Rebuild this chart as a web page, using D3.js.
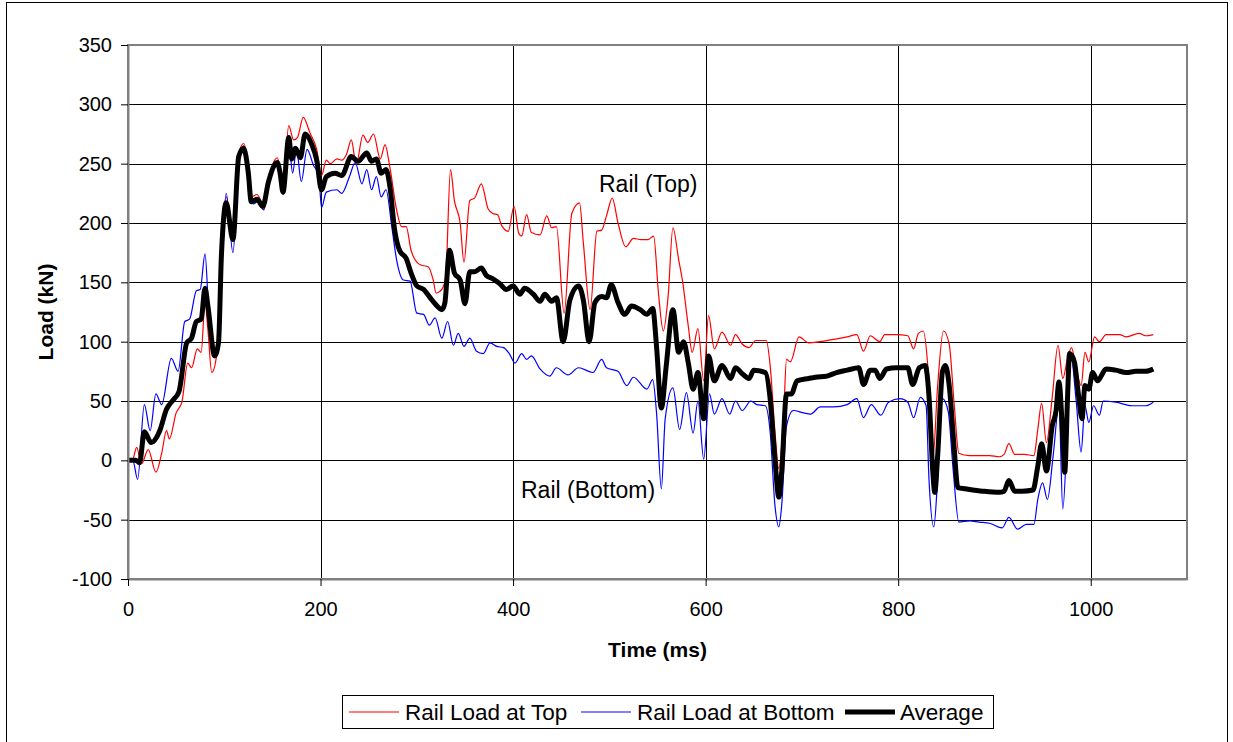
<!DOCTYPE html>
<html>
<head>
<meta charset="utf-8">
<script src="https://cdn.jsdelivr.net/npm/d3@7"></script>
<style>
  body { margin: 0; background: #fff; }
  svg { display: block; font-family: "Liberation Sans", Arial, sans-serif; }
</style>
</head>
<body>
<div id="chart"></div>
<script>
// DATA  [time (ms), load (kN)]
const railTop = [[0,0],[5,1],[9,11],[14,-3],[21,9],[29,-10],[35,6],[40,25],[43,18],[50,40],[56,49],[62,82],[66,78],[72,94],[76,91],[80,133],[83,110],[87,74],[92,88],[97,175],[102,222],[109,190],[115,258],[120,267],[125,248],[128,222],[134,224],[140,217],[146,238],[155,255],[158,246],[161,230],[167,282],[172,270],[176,272],[182,289],[189,276],[196,262],[201,240],[206,253],[210,250],[217,254],[222,253],[227,258],[232,270],[237,249],[244,274],[249,268],[255,275],[262,254],[267,266],[272,247],[279,211],[284,197],[289,197],[294,177],[303,165],[312,163],[317,152],[320,141],[326,144],[330,155],[335,245],[339,219],[345,200],[349,167],[355,219],[360,221],[367,233],[374,212],[379,208],[384,207],[388,198],[395,193],[401,214],[406,191],[409,189],[414,207],[419,192],[428,190],[435,206],[440,196],[445,197],[453,124],[461,208],[469,217],[473,183],[480,127],[487,193],[492,194],[497,206],[503,221],[509,200],[517,180],[525,187],[533,186],[540,186],[546,189],[551,141],[556,109],[561,138],[566,196],[572,169],[576,151],[582,113],[586,91],[592,111],[598,67],[603,122],[609,94],[617,108],[626,97],[631,106],[638,98],[645,95],[652,101],[663,101],[667,80],[672,24],[676,-7],[681,38],[684,85],[688,83],[697,104],[707,99],[719,100],[733,102],[747,104],[757,106],[764,92],[771,105],[781,100],[786,106],[798,106],[810,105],[816,94],[821,107],[826,109],[831,77],[836,1],[841,63],[847,109],[853,98],[858,49],[863,6],[874,4],[895,4],[905,3],[910,5],[915,14],[921,5],[931,5],[941,4],[945,26],[949,48],[954,15],[960,53],[966,97],[971,69],[976,86],[980,95],[985,77],[990,63],[994,91],[998,83],[1004,104],[1009,100],[1016,106],[1030,106],[1037,104],[1050,107],[1057,105],[1065,106]];

const railBottom = [[0,0],[5,0],[10,-16],[17,47],[23,25],[29,56],[35,47],[45,86],[52,75],[59,117],[64,119],[71,143],[75,144],[80,174],[84,122],[88,88],[94,100],[97,160],[102,225],[109,175],[115,250],[120,265],[130,216],[135,218],[141,211],[146,232],[155,248],[158,240],[161,224],[167,268],[171,242],[175,262],[180,235],[186,262],[193,248],[198,242],[201,213],[206,226],[217,228],[222,225],[230,239],[236,251],[243,233],[248,245],[253,228],[258,239],[263,222],[268,228],[274,197],[279,169],[286,152],[293,151],[300,124],[307,123],[313,114],[319,120],[326,103],[332,117],[338,97],[343,107],[349,96],[355,103],[362,92],[369,90],[376,99],[383,96],[390,95],[396,90],[402,82],[409,90],[414,85],[419,88],[428,77],[438,71],[445,78],[457,72],[468,78],[483,74],[492,85],[497,78],[509,75],[518,63],[525,70],[539,60],[545,68],[549,40],[554,-24],[558,35],[566,61],[573,26],[580,57],[587,23],[592,50],[598,1],[604,56],[609,39],[617,52],[625,39],[631,50],[638,42],[647,50],[653,47],[662,46],[667,24],[672,-38],[676,-56],[679,-38],[684,29],[691,42],[702,40],[709,39],[719,45],[733,45],[747,47],[757,52],[764,36],[772,47],[782,38],[790,49],[802,52],[810,49],[816,36],[823,53],[829,46],[832,-16],[837,-56],[841,-16],[846,52],[852,41],[857,-7],[863,-52],[874,-51],[884,-52],[895,-53],[908,-57],[915,-48],[924,-58],[933,-54],[941,-54],[945,-33],[950,-19],[955,-33],[961,4],[967,46],[971,-41],[976,35],[979,91],[985,49],[990,7],[994,46],[998,32],[1003,46],[1009,38],[1013,50],[1026,49],[1043,46],[1057,46],[1065,49]];

const average = [[0,0],[8,0],[12,-2],[17,24],[24,15],[33,25],[40,43],[47,51],[53,58],[61,99],[66,103],[71,117],[76,119],[80,145],[83,130],[90,88],[94,99],[97,172],[102,217],[109,186],[115,256],[120,263],[125,242],[128,218],[134,220],[140,214],[146,235],[155,251],[158,242],[161,226],[167,272],[170,254],[174,263],[179,255],[184,275],[191,266],[196,253],[201,228],[206,239],[215,242],[222,240],[232,256],[239,252],[248,259],[253,252],[258,254],[263,242],[268,245],[272,231],[277,194],[282,177],[289,170],[294,158],[300,147],[307,144],[313,138],[320,131],[326,127],[329,132],[334,177],[339,158],[345,152],[350,132],[355,159],[360,159],[367,162],[372,156],[379,153],[386,149],[393,144],[400,147],[407,140],[412,145],[421,140],[428,134],[433,140],[440,134],[445,137],[452,100],[459,135],[468,147],[473,135],[479,100],[485,133],[492,138],[497,137],[502,148],[509,133],[516,123],[523,130],[532,127],[539,123],[545,128],[549,96],[554,44],[559,79],[566,127],[572,91],[577,100],[582,82],[587,60],[592,74],[598,35],[603,88],[609,67],[617,80],[626,69],[631,78],[638,73],[645,69],[650,76],[662,74],[667,52],[672,1],[676,-31],[679,-10],[684,56],[689,56],[695,67],[707,69],[714,70],[726,71],[736,74],[747,76],[759,78],[764,64],[771,76],[776,76],[781,69],[788,77],[798,78],[810,78],[815,64],[822,78],[828,80],[832,54],[836,-10],[838,-27],[841,4],[846,75],[849,80],[853,63],[858,12],[862,-23],[870,-24],[888,-26],[905,-27],[910,-26],[915,-17],[921,-26],[929,-26],[940,-25],[945,-5],[949,14],[954,-9],[960,29],[964,42],[967,66],[971,19],[973,-10],[976,55],[978,90],[983,83],[987,57],[991,35],[994,63],[998,60],[1002,74],[1007,67],[1016,77],[1026,76],[1037,74],[1047,75],[1057,75],[1065,77]];

const xTicks = [0, 200, 400, 600, 800, 1000];
const yTicks = [-100, -50, 0, 50, 100, 150, 200, 250, 300, 350];

const seriesNames = ['Rail Load at Top', 'Rail Load at Bottom', 'Average'];
const seriesColors = ['#ff0000', '#0000ff', '#000000'];
const seriesWidths = [1.2, 1.2, 5];

// SVG
const width = 1233;
const height = 742;
const plot = { left: 128, top: 45, right: 1187, bottom: 579 };

const svg = d3.select('#chart').append('svg')
  .attr('width', width)
  .attr('height', height);

// outer frame
svg.append('rect')
  .attr('x', 6.5).attr('y', 2.5)
  .attr('width', 1221).attr('height', 760)
  .style('fill', 'none')
  .style('stroke', '#000')
  .style('stroke-width', 1);

const x = d3.scaleLinear().domain([0, 1100]).range([plot.left, plot.right]);
const y = d3.scaleLinear().domain([-100, 350]).range([plot.bottom, plot.top]);

// grid
svg.append('g')
  .selectAll('line')
  .data(yTicks.filter(d => d > -100 && d < 350))
  .enter().append('line')
  .attr('x1', plot.left).attr('x2', plot.right)
  .attr('y1', d => Math.round(y(d)) + 0.5)
  .attr('y2', d => Math.round(y(d)) + 0.5)
  .style('stroke', '#000')
  .style('stroke-width', 1);

svg.append('g')
  .selectAll('line')
  .data(xTicks.filter(d => d > 0))
  .enter().append('line')
  .attr('x1', d => Math.round(x(d)) + 0.5)
  .attr('x2', d => Math.round(x(d)) + 0.5)
  .attr('y1', plot.top).attr('y2', plot.bottom)
  .style('stroke', '#000')
  .style('stroke-width', 1);

// plot frame
svg.append('rect')
  .attr('x', plot.left).attr('y', plot.top)
  .attr('width', plot.right - plot.left)
  .attr('height', plot.bottom - plot.top)
  .style('fill', 'none')
  .style('stroke', '#808080')
  .style('stroke-width', 2);

// series
const line = d3.line()
  .x(d => x(d[0]))
  .y(d => y(d[1]))
  .curve(d3.curveMonotoneX);

[railTop, railBottom, average].forEach(function(data, i) {
  svg.append('path')
    .datum(data)
    .attr('d', line)
    .style('fill', 'none')
    .style('stroke', seriesColors[i])
    .style('stroke-width', seriesWidths[i])
    .style('stroke-linejoin', 'round');
});

// axes (plain hyphen minus, no thousands comma)
const plain = d => String(d);

const yAxis = svg.append('g')
  .attr('transform', `translate(${plot.left},0)`)
  .call(d3.axisLeft(y).tickValues(yTicks).tickFormat(plain).tickSize(7).tickPadding(9).tickSizeOuter(0));

const xAxis = svg.append('g')
  .attr('transform', `translate(0,${plot.bottom})`)
  .call(d3.axisBottom(x).tickValues(xTicks).tickFormat(plain).tickSize(7).tickPadding(16).tickSizeOuter(0));

[yAxis, xAxis].forEach(function(ax) {
  ax.select('.domain').style('stroke', '#808080').style('stroke-width', 2);
  ax.selectAll('.tick line').style('stroke', '#000');
  ax.selectAll('.tick text')
    .style('font-family', '"Liberation Sans", Arial, sans-serif')
    .style('font-size', '20px')
    .style('fill', '#000');
});

// axis titles
svg.append('text')
  .attr('x', (plot.left + plot.right) / 2)
  .attr('y', 657)
  .attr('text-anchor', 'middle')
  .style('font-size', '21px')
  .style('font-weight', 'bold')
  .text('Time (ms)');

svg.append('text')
  .attr('transform', `translate(53,${(plot.top + plot.bottom) / 2}) rotate(-90)`)
  .attr('text-anchor', 'middle')
  .style('font-size', '21px')
  .style('font-weight', 'bold')
  .text('Load (kN)');

// annotations
svg.append('text')
  .attr('x', 599).attr('y', 192)
  .style('font-size', '23px')
  .text('Rail (Top)');

svg.append('text')
  .attr('x', 521).attr('y', 498)
  .style('font-size', '23px')
  .text('Rail (Bottom)');

// legend
const legend = svg.append('g');
legend.append('rect')
  .attr('x', 342.5).attr('y', 695.5)
  .attr('width', 651).attr('height', 33)
  .style('fill', '#fff')
  .style('stroke', '#000')
  .style('stroke-width', 1);

const legendX = [349, 581, 845];
const item = legend.selectAll('g.item')
  .data(seriesNames)
  .enter().append('g')
  .attr('class', 'item')
  .attr('transform', (d, i) => `translate(${legendX[i]},712)`);

item.append('line')
  .attr('x1', 0).attr('x2', 50)
  .attr('y1', 0).attr('y2', 0)
  .style('stroke', (d, i) => seriesColors[i])
  .style('stroke-width', (d, i) => i === 2 ? 5 : 1.2);

item.append('text')
  .attr('x', (d, i) => i === 2 ? 55 : 56)
  .attr('y', 8)
  .style('font-size', '22.5px')
  .text(d => d);
</script>
</body>
</html>
